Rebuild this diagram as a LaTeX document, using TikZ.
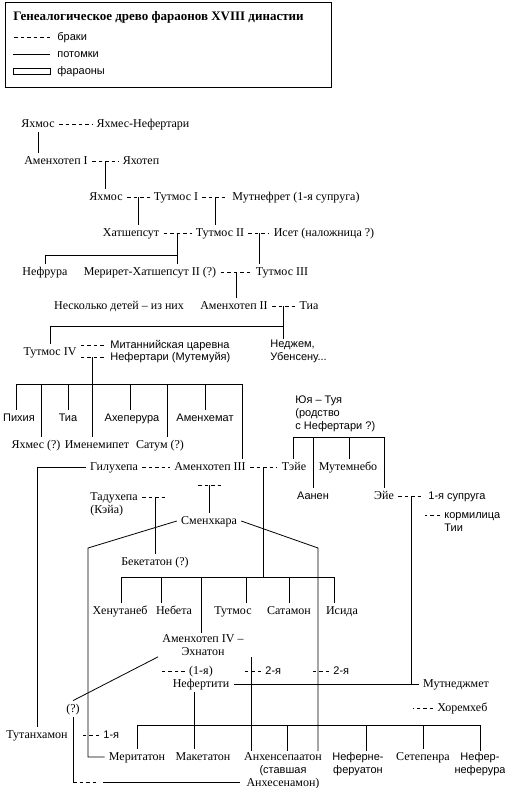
\documentclass[tikz,border=0pt]{standalone}
\usepackage{fontspec}
\setmainfont{Liberation Serif}
\setsansfont{Liberation Sans}
\usepackage{tikz}
\usetikzlibrary{positioning, calc}

\begin{document}
\begin{tikzpicture}[x=1pt, y=-1pt, line width=.8pt]
  \tikzstyle{person}=[inner xsep=4pt, inner ysep=3pt, text height=8pt, text depth=2pt, font=\fontsize{12}{13}\selectfont]
  \tikzstyle{note}=[person, font=\sffamily\fontsize{11}{13}\selectfont]
  \tikzstyle{multi}=[inner xsep=4pt, inner ysep=1pt, align=left, font=\fontsize{12}{13}\selectfont]
  \tikzstyle{multi-sf}=[multi, font=\sffamily\fontsize{11}{13}\selectfont]
  \tikzstyle{legend}=[note, anchor=west, inner xsep=7pt]
  \tikzstyle{marriage}=[dash pattern=on 3.5pt off 3pt]

  \useasboundingbox (0,0) rectangle (505,788);

  \draw (5,2) rectangle (331,87);
  \node[anchor=west, inner sep=0pt, font=\bfseries\fontsize{13}{15}\selectfont] (title) at (13,17) {Генеалогическое древо фараонов XVIII династии};
  \node[legend] (l-marr) at (50,37) {браки};
  \node[legend] (l-kin) at (50,54) {потомки};
  \node[legend] (l-phar) at (50,71) {фараоны};

  \node[person] (yah-1) at (38,124) {Яхмос};
  \node[person] (yah-nef) at (143,124) {Яхмес-Нефертари};
  \node[person] (amen-1) at (56,161) {Аменхотеп I};
  \node[person] (yahotep) at (141,161) {Яхотеп};
  \node[person] (yah-2) at (106,197) {Яхмос};
  \node[person] (tut-1) at (176,197) {Тутмос I};
  \node[person] (mutnef) at (296,197) {Мутнефрет (1-я супруга)};
  \node[person] (hatsh) at (131,233) {Хатшепсут};
  \node[person] (tut-2) at (220,233) {Тутмос II};
  \node[person] (iset) at (324,233) {Исет (наложница ?)};
  \node[person] (nefrura) at (45,272) {Нефрура};
  \node[person] (meriret) at (150,272) {Мерирет-Хатшепсут II (?)};
  \node[person] (tut-3) at (282,272) {Тутмос III};
  \node[person] (several) at (119,306) {Несколько детей – из них};
  \node[person] (amen-2) at (234,306) {Аменхотеп II};
  \node[person] (tia-1) at (309,306) {Тиа};
  \node[person] (tut-4) at (50,352) {Тутмос IV};
  \node[note, anchor=west] (mitanni) at (106,345) {Митаннийская царевна};
  \node[note, anchor=west] (nef-mut) at (106,357) {Нефертари (Мутемуйя)};
  \node[multi-sf, anchor=north west] (nedjem) at (266,339) {Неджем,\\Убенсену...};
  \node[note] (pihia) at (19,418) {Пихия};
  \node[note] (tia-2) at (68,418) {Тиа};
  \node[note] (aheper) at (132,418) {Ахеперура};
  \node[note] (amenhemat) at (205,418) {Аменхемат};
  \node[person] (yahmes) at (36,445) {Яхмес (?)};
  \node[person] (imenem) at (97,445) {Именемипет};
  \node[person] (satum) at (160,445) {Сатум (?)};
  \node[multi-sf, anchor=north west] (juya) at (291,394) {Юя – Туя\\(родство\\с Нефертари ?)};
  \node[person] (gilu) at (114,467) {Гилухепа};
  \node[person] (amen-3) at (210,467) {Аменхотеп III};
  \node[person] (teye) at (294,467) {Тэйе};
  \node[person] (mutemnebo) at (348,467) {Мутемнебо};
  \node[multi, anchor=north west] (tadu) at (86,491) {Тадухепа\\(Кэйа)};
  \node[note] (aanen) at (313,496) {Аанен};
  \node[person] (eje) at (384,496) {Эйе};
  \node[note, anchor=west] (wife-1) at (424,496) {1-я супруга};
  \node[multi-sf, anchor=north west] (nurse) at (440,511) {кормилица\\Тии};
  \node[person] (smenkh) at (209,521) {Сменхкара};
  \node[person] (bekat) at (155,562) {Бекетатон (?)};
  \node[person] (henut) at (120,611) {Хенутанеб};
  \node[person] (nebeta) at (174,611) {Небета};
  \node[person] (tutmos) at (233,611) {Тутмос};
  \node[person] (satamon) at (289,611) {Сатамон};
  \node[person] (isida) at (342,611) {Исида};
  \node[multi, align=center, anchor=north] (akhen) at (203,633) {Аменхотеп IV –\\Эхнатон};
  \node[person] (wife-1st) at (201,671) {(1-я)};
  \node[note, anchor=west] (wife-2a) at (261,671) {2-я};
  \node[note, anchor=west] (wife-2b) at (329,671) {2-я};
  \node[person] (nefert) at (201,684) {Нефертити};
  \node[person] (mutn) at (456,684) {Мутнеджмет};
  \node[person] (q) at (73,709) {(?)};
  \node[person, anchor=west] (horem) at (433,708) {Хоремхеб};
  \node[person] (tutankh) at (37,735) {Тутанхамон};
  \node[note, anchor=west] (wife-1b) at (99,735) {1-я};
  \node[person] (merit) at (137,757) {Меритатон};
  \node[person] (maket) at (203,757) {Макетатон};
  \node[multi, align=center, anchor=north] (ankh) at (283,751) {Анхенсепаатон\\{\sffamily\fontsize{11}{13}\selectfont(ставшая}\\Анхесенамон)};
  \node[multi-sf, align=center, anchor=north] (neferne) at (358,751) {Неферне-\\феруатон};
  \node[person] (setep) at (423,757) {Сетепенра};
  \node[multi-sf, align=center, anchor=north] (nnefer) at (480,751) {Нефер-\\неферура};

  \coordinate (k-5) at (0,255);
  \coordinate (k-7) at (0,326);
  \foreach \x [count=\i] in {16,41,68,92,130,167,205,242} \coordinate (k8-\i) at (\x,384);
  \foreach \x [count=\i] in {293,313,349,384} \coordinate (k10-\i) at (\x,437);
  \foreach \x [count=\i] in {121,161,201,246,289,334} \coordinate (k12-\i) at (\x,577);
  \foreach \x [count=\i] in {137,194,287,366,423,480} \coordinate (k13-\i) at (\x,725);
  \coordinate (smenkh-l) at (88,548);
  \coordinate (smenkh-r) at (318,548);
  \coordinate (a3-l) at (198,485);
  \coordinate (a3-r) at (222,485);
  \coordinate (akh-2) at (251,657);
  \coordinate (q-b) at (73,782);
  \coordinate (q-d) at (97,782);
  \coordinate (q-s) at (103,782);
  \coordinate (m-2) at ($(amen-1.east)!.5!(yahotep.west)$);
  \coordinate (m-3) at ($(yah-2.east)!.5!(tut-1.west)$);
  \coordinate (m-4) at ($(tut-1.east)!.5!(mutnef.west)$);
  \coordinate (m-5) at ($(hatsh.east)!.5!(tut-2.west)$);
  \coordinate (m-6) at ($(tut-2.east)!.5!(iset.west)$);
  \coordinate (m-7) at ($(meriret.east)!.5!(tut-3.west)$);
  \coordinate (m-8) at ($(amen-2.east)!.5!(tia-1.west)$);
  \coordinate (m-10) at ($(amen-3.east)!.5!(teye.west)$);
  \coordinate (m-11) at ($(eje.east)!.5!(wife-1.west)$);
  \coordinate (td-l) at ($(tadu.north east)+(0,6)$);

  \draw[marriage] (l-marr.west) -- ++(-37,0);
  \draw (l-kin.west) -- ++(-37,0);
  \draw ($(l-phar.west)+(0,-3)$) rectangle ++(-37,6);

  \draw[marriage] (yah-1) -- (yah-nef);
  \draw (yah-1.south) -- (yah-1.south |- amen-1.north);
  \draw[marriage] (amen-1) -- (yahotep);
  \draw (m-2) -- (m-2 |- yah-2.north);
  \draw[marriage] (yah-2) -- (tut-1);
  \draw (m-3) -- (m-3 |- hatsh.north);
  \draw[marriage] (tut-1) -- (mutnef);
  \draw (m-4) -- (m-4 |- tut-2.north);
  \draw[marriage] (hatsh) -- (tut-2);
  \draw (m-5) -- (m-5 |- meriret.north);
  \draw (m-5 |- k-5) -| (nefrura.north);
  \draw[marriage] (tut-2) -- (iset);
  \draw (m-6) -- (m-6 |- tut-3.north);
  \draw[marriage] (meriret) -- (tut-3);
  \draw (m-7) -- (m-7 |- amen-2.north);
  \draw[marriage] (amen-2) -- (tia-1);
  \draw (m-8) -- (m-8 |- nedjem.north);
  \draw (m-8 |- k-7) -| (tut-4.north);

  \draw[marriage] (tut-4.east |- mitanni) -- (mitanni);
  \draw[marriage] (tut-4.east |- nef-mut) -- (nef-mut);
  \draw (k8-4 |- nef-mut) -- (k8-4 |- imenem.north);
  \draw (k8-1) -- (k8-8);
  \foreach \i/\n in {1/pihia, 2/yahmes, 3/tia-2, 5/aheper, 6/satum, 7/amenhemat, 8/amen-3}
    \draw (k8-\i) -- (k8-\i |- \n.north);

  \draw (k10-1) -- (k10-4);
  \foreach \i/\n in {1/teye, 2/aanen, 3/mutemnebo, 4/eje}
    \draw (k10-\i) -- (k10-\i |- \n.north);

  \draw[marriage] (gilu) -- (amen-3);
  \draw[marriage] (amen-3) -- (teye);
  \draw (gilu.west) -| (tutankh.north);
  \draw[marriage] (a3-l) -- (a3-r);
  \draw (smenkh.north |- a3-l) -- (smenkh.north);
  \draw (m-10) -- (m-10 |- k12-1);
  \draw (k12-1) -- (k12-6);
  \foreach \i/\n in {1/henut, 2/nebeta, 3/akhen, 4/tutmos, 5/satamon, 6/isida}
    \draw (k12-\i) -- (k12-\i |- \n.north);

  \draw[marriage] (td-l) -- ++(26,0);
  \draw (bekat.north |- td-l) -- (bekat.north);
  \draw[marriage] (eje) -- (wife-1);
  \draw (m-11) -- (m-11 |- mutn);
  \draw[marriage] (nurse.north west) ++(0,4) -- ++(-15,0);

  \draw (smenkh.west) -- (smenkh-l) |- (merit.west);
  \draw (smenkh.east) -- (smenkh-r) -- (smenkh-r |- ankh.north);

  \draw (akhen.south west) -- (q.north);
  \draw[marriage] (wife-1st.west) -- ++(-24,0);
  \draw[marriage] (wife-2a.west) -- ++(-19,0);
  \draw[marriage] (wife-2b.west) -- ++(-19,0);
  \draw (akh-2) -- (akh-2 |- ankh.north);
  \draw (nefert) -- (mutn);
  \draw (k13-1) -- (k13-6);
  \draw (k13-2 |- nefert.south) -- (k13-2 |- maket.north);
  \foreach \i/\n in {1/merit, 3/ankh, 4/neferne, 5/setep, 6/nnefer}
    \draw (k13-\i) -- (k13-\i |- \n.north);
  \draw[marriage] (horem.west) -- ++(-20,0);
  \draw[marriage] (wife-1b.west) -- ++(-19,0);
  \draw (q) -- (q-b);
  \draw[marriage] (q-b) -- (q-d);
  \draw (q-s) -- (ankh.west |- q-s);
\end{tikzpicture}
\end{document}
